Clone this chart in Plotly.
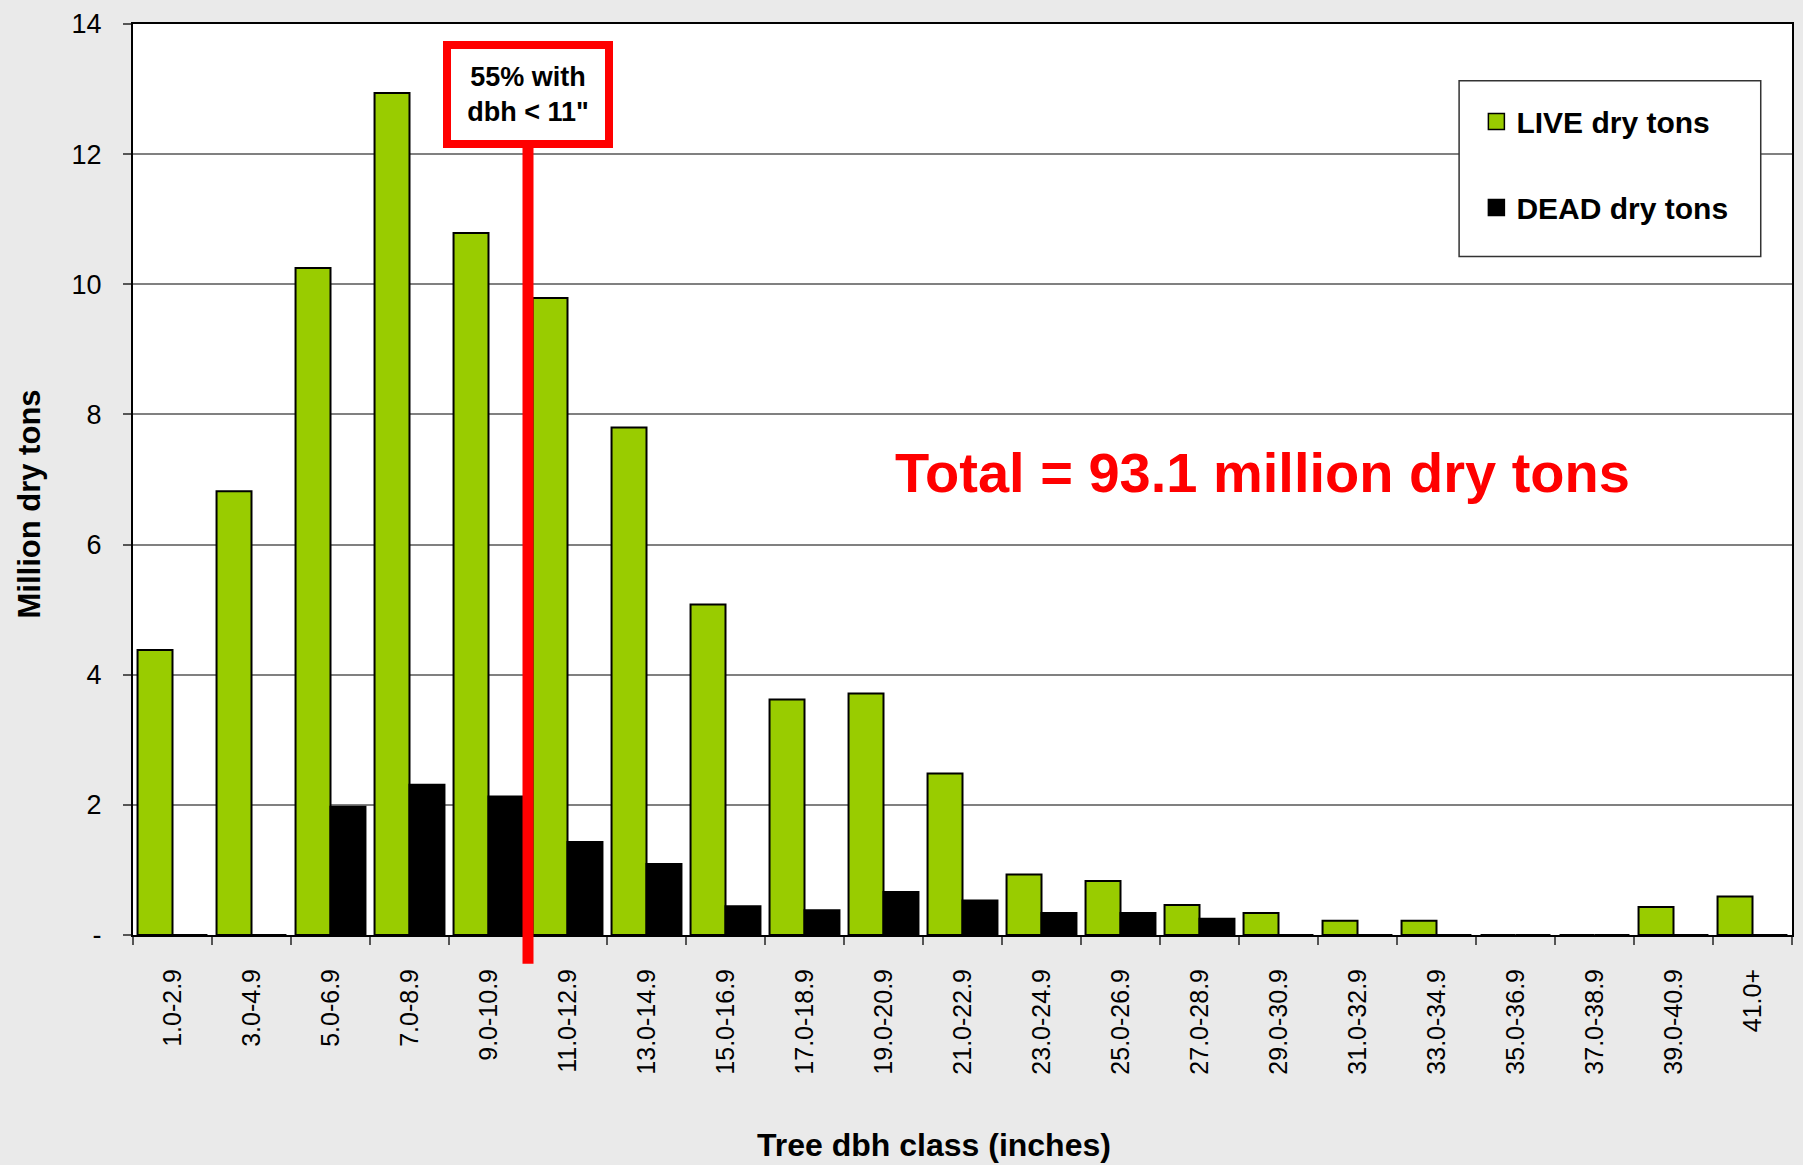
import plotly.graph_objects as go

categories = ["1.0-2.9", "3.0-4.9", "5.0-6.9", "7.0-8.9", "9.0-10.9", "11.0-12.9",
              "13.0-14.9", "15.0-16.9", "17.0-18.9", "19.0-20.9", "21.0-22.9",
              "23.0-24.9", "25.0-26.9", "27.0-28.9", "29.0-30.9", "31.0-32.9",
              "33.0-34.9", "35.0-36.9", "37.0-38.9", "39.0-40.9", "41.0+"]
live_tons = [4.38, 6.82, 10.25, 12.94, 10.79, 9.79, 7.80, 5.08, 3.62, 3.71, 2.48,
             0.93, 0.83, 0.46, 0.34, 0.22, 0.22, 0, 0, 0.43, 0.59]
dead_tons = [0, 0, 1.97, 2.31, 2.13, 1.43, 1.09, 0.44, 0.38, 0.66, 0.53,
             0.34, 0.34, 0.25, 0, 0, 0, 0, 0, 0, 0]
series_names = ["LIVE dry tons", "DEAD dry tons"]
ytick_vals = [0, 2, 4, 6, 8, 10, 12, 14]
ytick_text = ["-", "2", "4", "6", "8", "10", "12", "14"]

FONT = "Arial, Liberation Sans, sans-serif"
GREEN = "#99CC00"
colors = [GREEN, "black"]

fig = go.Figure()
for name, vals, col in zip(series_names, [live_tons, dead_tons], colors):
    fig.add_trace(go.Bar(x=categories, y=vals, name=name, showlegend=False,
                         marker=dict(color=col, line=dict(color="black", width=2))))
# legend entries (square swatches)
for name, col in zip(series_names, colors):
    fig.add_trace(go.Scatter(x=[None], y=[None], mode="markers", name=f"<b>{name}</b>",
                             legendgroup=name,
                             marker=dict(symbol="square", size=16, color=col,
                                         line=dict(color="black", width=1.5))))

W, H = 1803, 1165
L, R, T, B = 133, 9, 19, 230
pw, ph = W - L - R, H - T - B

def px(x):
    return (x - L) / pw

def py(y):
    return (H - B - y) / ph

fig.update_layout(
    width=W, height=H,
    margin=dict(l=L, r=R, t=T, b=B, pad=0),
    paper_bgcolor="#EAEAEA",
    plot_bgcolor="white",
    barmode="group",
    bargap=0.115,
    bargroupgap=0,
    font=dict(family=FONT, color="black"),
    showlegend=True,
    legend=dict(x=px(1478), xanchor="left", y=py(91), yanchor="top",
                bgcolor="rgba(0,0,0,0)", borderwidth=0,
                font=dict(size=30, family=FONT, color="black"),
                itemsizing="trace",
                traceorder="grouped", tracegroupgap=44),
    xaxis=dict(type="category", showline=True, linecolor="black", linewidth=2,
               mirror=True, ticks="outside", tickson="boundaries", ticklen=8,
               tickcolor="#555", tickwidth=1.5, tickangle=-90,
               tickfont=dict(size=25, family=FONT, color="black"),
               ticklabelstandoff=22, showgrid=False, range=[-0.5, 20.5]),
    yaxis=dict(range=[0, 14], tickvals=ytick_vals, ticktext=ytick_text,
               showline=True, linecolor="black", linewidth=2, mirror=True,
               ticks="outside", ticklen=8, tickcolor="#555", tickwidth=1.5,
               tickfont=dict(size=27, family=FONT, color="black"),
               ticklabelstandoff=16,
               showgrid=True, gridcolor="#808080", gridwidth=1.5, zeroline=False),
    shapes=[
        dict(type="rect", xref="paper", yref="paper",
             x0=px(1460.7), x1=px(1762.7), y0=py(252.7), y1=py(76),
             line=dict(color="#333", width=1.5), fillcolor="white", layer="above"),
        dict(type="line", xref="x", yref="paper", x0=4.5, x1=4.5,
             y0=py(964), y1=py(120), line=dict(color="#FF0000", width=11),
             layer="above"),
    ],
    annotations=[
        dict(text="<b>55% with<br>dbh &lt; 11\"</b>", xref="x", yref="y",
             x=4.5, y=12.91, xanchor="center", yanchor="middle", showarrow=False,
             width=154, height=91,
             borderwidth=8, borderpad=0, bordercolor="#FF0000", bgcolor="white",
             font=dict(size=27, family=FONT, color="black"), align="center"),
        dict(text="<b>Total = 93.1 million dry tons</b>", xref="paper", yref="paper",
             x=px(1264), y=py(470), xanchor="center", yanchor="middle", showarrow=False,
             font=dict(size=56, family=FONT, color="#FF0000")),
        dict(text="<b>Tree dbh class (inches)</b>", xref="paper", yref="paper",
             x=px(935), y=py(1146), xanchor="center", yanchor="middle", showarrow=False,
             font=dict(size=32, family=FONT, color="black")),
        dict(text="<b>Million dry tons</b>", xref="paper", yref="paper",
             x=px(29), y=py(502), xanchor="center", yanchor="middle", showarrow=False,
             textangle=-90,
             font=dict(size=31, family=FONT, color="black")),
    ],
)

fig.write_html("out.html", config={"displayModeBar": False},
               post_script="document.body.style.margin='0';")
